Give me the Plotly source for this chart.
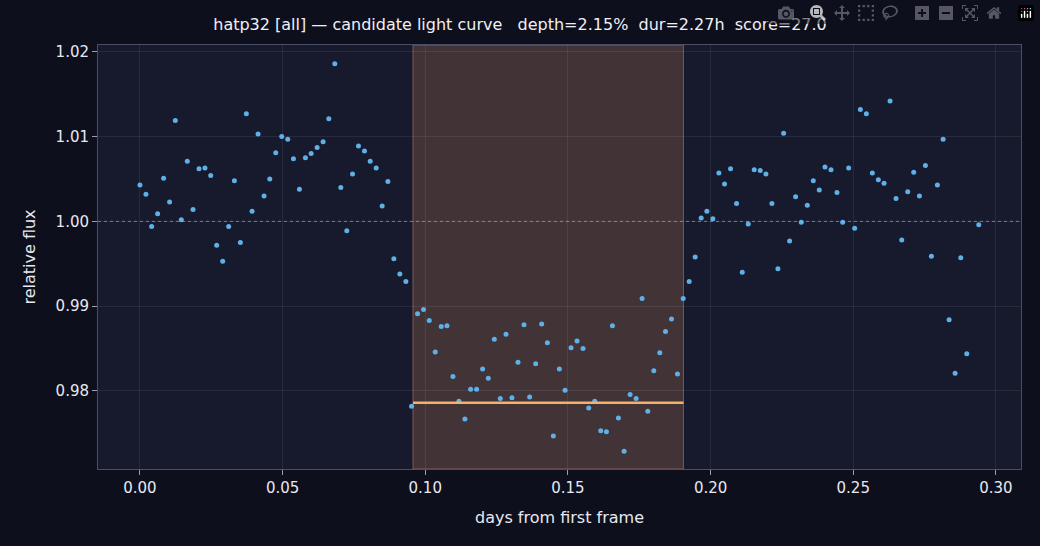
import plotly.graph_objects as go

# light curve samples
days = [0.0000, 0.0021, 0.0041, 0.0062, 0.0083, 0.0104, 0.0124, 0.0145, 0.0166, 0.0186,
        0.0207, 0.0228, 0.0248, 0.0269, 0.0290, 0.0311, 0.0331, 0.0352, 0.0373, 0.0393,
        0.0414, 0.0435, 0.0455, 0.0476, 0.0497, 0.0518, 0.0538, 0.0559, 0.0580, 0.0600,
        0.0621, 0.0642, 0.0662, 0.0683, 0.0704, 0.0725, 0.0745, 0.0766, 0.0787, 0.0807,
        0.0828, 0.0849, 0.0869, 0.0890, 0.0911, 0.0932, 0.0952, 0.0973, 0.0994, 0.1014,
        0.1035, 0.1056, 0.1076, 0.1097, 0.1118, 0.1139, 0.1159, 0.1180, 0.1201, 0.1221,
        0.1242, 0.1263, 0.1283, 0.1304, 0.1325, 0.1346, 0.1366, 0.1387, 0.1408, 0.1428,
        0.1449, 0.1470, 0.1490, 0.1511, 0.1532, 0.1553, 0.1573, 0.1594, 0.1615, 0.1635,
        0.1656, 0.1677, 0.1697, 0.1718, 0.1739, 0.1760, 0.1780, 0.1801, 0.1822, 0.1842,
        0.1863, 0.1884, 0.1904, 0.1925, 0.1946, 0.1967, 0.1987, 0.2008, 0.2029, 0.2049,
        0.2070, 0.2091, 0.2111, 0.2132, 0.2153, 0.2174, 0.2194, 0.2215, 0.2236, 0.2256,
        0.2277, 0.2298, 0.2318, 0.2339, 0.2360, 0.2381, 0.2401, 0.2422, 0.2443, 0.2463,
        0.2484, 0.2505, 0.2525, 0.2546, 0.2567, 0.2588, 0.2608, 0.2629, 0.2650, 0.2670,
        0.2691, 0.2712, 0.2732, 0.2753, 0.2774, 0.2795, 0.2815, 0.2836, 0.2857, 0.2877,
        0.2898, 0.2940]
flux = [1.0043, 1.0032, 0.9994, 1.0009, 1.0051, 1.0023, 1.0119, 1.0002, 1.0071, 1.0014,
        1.0062, 1.0063, 1.0054, 0.9972, 0.9953, 0.9994, 1.0048, 0.9975, 1.0127, 1.0012,
        1.0103, 1.0030, 1.0050, 1.0081, 1.0100, 1.0097, 1.0074, 1.0038, 1.0075, 1.0080,
        1.0087, 1.0094, 1.0121, 1.0186, 1.0040, 0.9989, 1.0056, 1.0089, 1.0083, 1.0071,
        1.0063, 1.0018, 1.0047, 0.9956, 0.9938, 0.9929, 0.9782, 0.9891, 0.9896, 0.9883,
        0.9846, 0.9876, 0.9877, 0.9817, 0.9788, 0.9767, 0.9802, 0.9802, 0.9826, 0.9815,
        0.9861, 0.9791, 0.9867, 0.9792, 0.9834, 0.9878, 0.9793, 0.9832, 0.9879, 0.9857,
        0.9747, 0.9826, 0.9801, 0.9851, 0.9859, 0.9850, 0.9780, 0.9788, 0.9753, 0.9752,
        0.9877, 0.9768, 0.9729, 0.9796, 0.9791, 0.9909, 0.9776, 0.9824, 0.9845, 0.9870,
        0.9885, 0.9820, 0.9909, 0.9929, 0.9958, 1.0004, 1.0012, 1.0003, 1.0057, 1.0044,
        1.0062, 1.0021, 0.9940, 0.9997, 1.0061, 1.0060, 1.0056, 1.0021, 0.9944, 1.0104,
        0.9977, 1.0029, 0.9999, 1.0019, 1.0048, 1.0037, 1.0064, 1.0061, 1.0034, 0.9999,
        1.0063, 0.9992, 1.0132, 1.0127, 1.0057, 1.0049, 1.0045, 1.0142, 1.0027, 0.9978,
        1.0035, 1.0058, 1.0030, 1.0066, 0.9959, 1.0043, 1.0097, 0.9884, 0.9821, 0.9957,
        0.9844, 0.9996]

transit_start = 0.0957
transit_end = 0.1905
transit_floor = 0.9786

fig = go.Figure()
fig.add_vrect(x0=transit_start, x1=transit_end, fillcolor="rgba(110,75,65,0.5)",
              line=dict(color="rgba(160,110,95,0.7)", width=1), layer="below")
fig.add_hline(y=1.0, line=dict(color="rgba(180,180,200,0.6)", width=1, dash="dot"))
fig.add_trace(go.Scatter(x=days, y=flux, mode="markers",
                         marker=dict(color="#5fb0e8", size=5), showlegend=False))
fig.add_trace(go.Scatter(x=[transit_start, transit_end], y=[transit_floor, transit_floor],
                         mode="lines", line=dict(color="#f5b06a", width=2.5), showlegend=False))

axis = dict(showline=True, linecolor="#4a4e68", mirror=True, gridcolor="rgba(255,255,255,0.07)",
            zeroline=False, ticks="outside", tickcolor="#9a9cb0",
            tickfont=dict(color="#e8e8f0", size=15), title_font=dict(color="#e8e8f0", size=16))
fig.update_layout(
    width=1040, height=546,
    title=dict(text="hatp32 [all] — candidate light curve   depth=2.15%  dur=2.27h  score=27.0",
               x=0.5, y=0.965, font=dict(color="#f0f0f5", size=16)),
    paper_bgcolor="#0e0f1c", plot_bgcolor="#171a2d",
    font=dict(family="DejaVu Sans"),
    margin=dict(l=98, r=19, t=45, b=77),
    xaxis=dict(axis, range=[-0.0147, 0.3088], tickvals=[0, 0.05, 0.1, 0.15, 0.2, 0.25, 0.3],
               tickformat=".2f", title_text="days from first frame"),
    yaxis=dict(axis, range=[0.9708, 1.0208], tickvals=[0.98, 0.99, 1.0, 1.01, 1.02],
               tickformat=".2f", title_text="relative flux"),
)
# drop the page's default white body margin
fig.write_html("out.html",
               post_script="document.body.style.margin='0';document.body.style.background='#0e0f1c';")
